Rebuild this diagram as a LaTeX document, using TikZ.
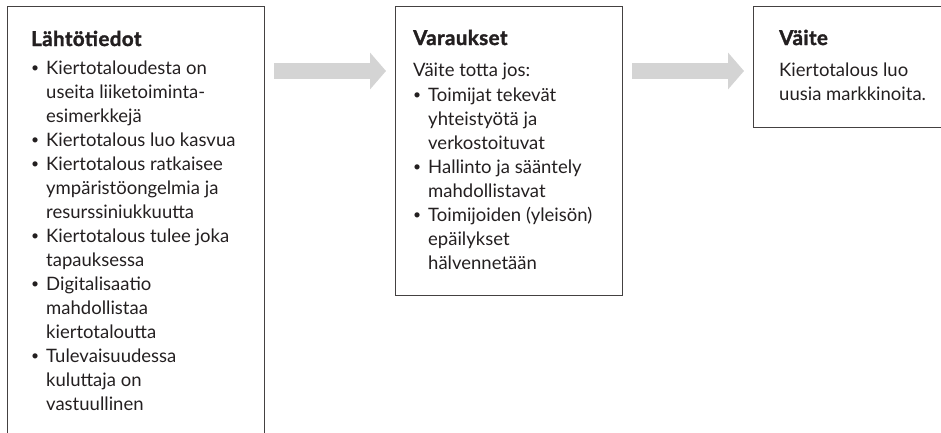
\documentclass[tikz,border=0pt]{standalone}
\usepackage{fontspec}
\setmainfont{Lato}
\newfontfamily\heavyfont{Lato}[BoldFeatures={FakeBold=1.6},LetterSpace=2]
\usetikzlibrary{positioning}
\usetikzlibrary{arrows.meta}
\definecolor{ink}{HTML}{231F20}
\definecolor{arrowgray}{HTML}{D4D4D4}
\newcommand{\boxfont}{\fontsize{18.5}{24}\selectfont}
\newcommand{\titlefont}{\heavyfont\bfseries\fontsize{20.5}{24}\selectfont}
\newcommand{\bul}{\makebox[15pt][l]{\raisebox{1.2pt}{\scalebox{0.75}{\textbullet}}}}

\begin{document}
\begin{tikzpicture}[x=1pt,y=1pt,
  box/.style={draw=ink!85,line width=1pt,anchor=north west,inner sep=0pt},
  txt/.style={anchor=base west,inner sep=0pt,text=ink,font=\boxfont},
  ttl/.style={anchor=base west,inner sep=0pt,text=ink,font=\titlefont},
  flow/.style={arrowgray,line width=16pt,-{Triangle[length=16pt,width=36pt]}}]
  \useasboundingbox (0,0) rectangle (941,-432);
  \clip (0,0) rectangle (941,-432);
  \node[box,minimum width=257pt,minimum height=470pt](lahto) at (7,-6) {};
  \node[box,minimum width=227pt,minimum height=289pt](varaus) at (395,-6) {};
  \node[box,minimum width=240pt,minimum height=121pt](vaite) at (753,-6) {};
  \node[ttl](lahtotitle) at (31,-46) {Lähtötiedot};
  \node[txt](lahtolist) at (31,-74) {\begin{tabular}[t]{@{}l@{}l@{}}
    \bul & Kiertotaloudesta on\\
         & useita liiketoiminta-\\
         & esimerkkejä\\
    \bul & Kiertotalous luo kasvua\\
    \bul & Kiertotalous ratkaisee\\
         & ympäristöongelmia ja\\
         & resurssiniukkuutta\\
    \bul & Kiertotalous tulee joka\\
         & tapauksessa\\
    \bul & Digitalisaatio\\
         & mahdollistaa\\
         & kiertotaloutta\\
    \bul & Tulevaisuudessa\\
         & kuluttaja on\\
         & vastuullinen
  \end{tabular}};
  \node[ttl](varaustitle) at (413,-45) {Varaukset};
  \node[txt](varauslead) at (413,-76) {Väite totta jos:};
  \node[txt](varauslist) at (413,-101) {\begin{tabular}[t]{@{}l@{}l@{}}
    \bul & Toimijat tekevät\\
         & yhteistyötä ja\\
         & verkostoituvat\\
    \bul & Hallinto ja sääntely\\
         & mahdollistavat\\
    \bul & Toimijoiden (yleisön)\\
         & epäilykset\\
         & hälvennetään
  \end{tabular}};
  \node[ttl](vaitetitle) at (779,-45) {Väite};
  \node[txt](vaitetext) at (779,-76) {\begin{tabular}[t]{@{}l@{}}
    Kiertotalous luo\\
    uusia markkinoita.
  \end{tabular}};
  \draw[flow] ([xshift=9pt,yshift=-65pt]lahto.north east) -- ([xshift=-9pt,yshift=-65pt]varaus.north west);
  \draw[flow] ([xshift=9pt,yshift=-65pt]varaus.north east) -- ([xshift=-9pt,yshift=-65pt]vaite.north west);
\end{tikzpicture}
\end{document}
